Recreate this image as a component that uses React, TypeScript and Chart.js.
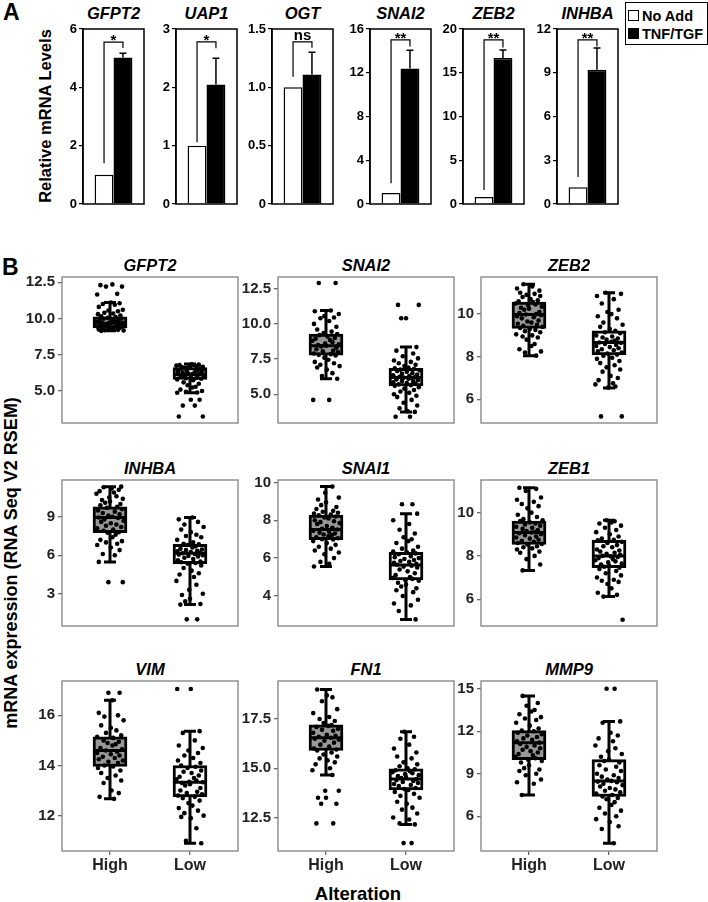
import React, { useEffect, useRef } from 'react';
import { Chart, registerables } from 'chart.js';

Chart.register(...registerables);

const FONT = "'Liberation Sans', Arial, Helvetica, sans-serif";

// ---------------- Panel A data ----------------
const A_GENES = ['GFPT2', 'UAP1', 'OGT', 'SNAI2', 'ZEB2', 'INHBA'];
const A_SERIES = ['No Add', 'TNF/TGF'];
const A_NOADD = [1.0, 1.0, 1.0, 1.0, 0.8, 1.15];
const A_TNF = [5.02, 2.05, 1.11, 12.4, 16.7, 9.2];
const A_TNF_ERR = [0.15, 0.45, 0.19, 1.65, 0.9, 1.5];
const A_YMAX = [6, 3, 1.5, 16, 20, 12];
const A_TICKS = [
  ['0', '2', '4', '6'],
  ['0', '1', '2', '3'],
  ['0', '0.5', '1.0', '1.5'],
  ['0', '4', '8', '12', '16'],
  ['0', '5', '10', '15', '20'],
  ['0', '3', '6', '9', '12'],
];
const A_BRACKET_LEFT = [1.4, 1.06, 1.09, 1.9, 1.6, 1.86];
const A_BRACKET_TOP = [5.55, 2.78, 1.39, 15.0, 18.75, 11.25];
const A_BRACKET_RIGHT = [5.35, 2.67, 1.34, 14.4, 17.9, 10.8];
const A_SIG = ['*', '*', 'ns', '**', '**', '**'];

// ---------------- Panel B data ----------------
const B_GROUPS = ['High', 'Low'];
const B_GENES = ['GFPT2', 'SNAI2', 'ZEB2', 'INHBA', 'SNAI1', 'ZEB1', 'VIM', 'FN1', 'MMP9'];

// hand-typed horizontal jitter offsets (category units)
const JITTER = [0.03, -0.12, 0.15, -0.05, 0.09, -0.16, 0.01, 0.12, -0.09, 0.06, -0.14, 0.16, -0.02, 0.10, -0.07,
  0.04, -0.15, 0.13, -0.11, 0.07, -0.03, 0.14, -0.08, 0.02, 0.11, -0.13, 0.05, -0.17, 0.08, -0.01, 0.16, -0.10,
  0.00, -0.06, 0.13, -0.12, 0.09, -0.04, 0.15, -0.15, 0.06, -0.09, 0.12, -0.02, 0.03, -0.14, 0.10, -0.07, 0.17,
  -0.11, 0.01, 0.08, -0.05, 0.14, -0.16, 0.04, -0.08, 0.11, -0.03, 0.07];

// box stats: [lower whisker, Q1, median, Q3, upper whisker]
const GFPT2_HIGH = [12.35, 12.3, 12.2, 12.2, 11.7, 11.65, 11.1, 11.05, 11.0, 10.95, 10.8, 10.6, 10.55, 10.5, 10.4, 10.35, 10.3, 10.2, 10.15, 10.1, 10.05, 10.0, 9.98, 9.95, 9.9, 9.85, 9.8, 9.78, 9.75, 9.72, 9.7, 9.68, 9.65, 9.6, 9.58, 9.55, 9.5, 9.48, 9.45, 9.42, 9.4, 9.38, 9.35, 9.3, 9.28, 9.25, 9.22, 9.2, 9.18, 9.15];
const GFPT2_LOW = [6.85, 6.82, 6.8, 6.78, 6.75, 6.72, 6.7, 6.68, 6.65, 6.63, 6.6, 6.55, 6.5, 6.45, 6.4, 6.38, 6.35, 6.3, 6.28, 6.25, 6.2, 6.18, 6.15, 6.12, 6.1, 6.05, 6.0, 5.95, 5.9, 5.88, 5.85, 5.8, 5.75, 5.6, 5.5, 5.4, 5.3, 5.25, 5.1, 5.0, 4.95, 4.9, 4.88, 4.4, 4.4, 4.0, 4.0, 3.25, 3.25];
const GFPT2_BOX_HIGH = [9.15, 9.36, 9.68, 10.12, 11.1];
const GFPT2_BOX_LOW = [4.88, 5.8, 6.15, 6.62, 6.86];
const GFPT2_RANGE = [2.8, 12.86];
const GFPT2_TICKS = ['5.0', '7.5', '10.0', '12.5'];

const SNAI2_HIGH = [12.9, 12.9, 10.95, 10.9, 10.7, 10.55, 10.45, 10.4, 10.2, 10.0, 9.8, 9.6, 9.45, 9.35, 9.28, 9.2, 9.1, 9.0, 8.95, 8.85, 8.8, 8.7, 8.6, 8.55, 8.5, 8.45, 8.4, 8.3, 8.2, 8.1, 8.05, 8.0, 7.9, 7.85, 7.8, 7.75, 7.6, 7.45, 7.3, 7.2, 7.1, 7.0, 6.9, 6.75, 6.5, 6.3, 6.1, 4.6, 4.6];
const SNAI2_LOW = [11.35, 11.35, 10.4, 10.4, 8.35, 8.1, 7.9, 7.7, 7.55, 7.4, 7.3, 7.2, 7.1, 7.0, 6.9, 6.84, 6.8, 6.75, 6.7, 6.65, 6.6, 6.5, 6.45, 6.4, 6.35, 6.3, 6.25, 6.2, 6.18, 6.15, 6.1, 6.05, 6.0, 5.95, 5.9, 5.85, 5.8, 5.75, 5.7, 5.65, 5.6, 5.5, 5.4, 5.3, 5.2, 5.1, 5.0, 4.9, 4.8, 4.6, 4.4, 4.2, 4.0, 3.8, 3.75, 3.4, 3.4];
const SNAI2_BOX_HIGH = [6.1, 7.77, 8.45, 9.28, 10.95];
const SNAI2_BOX_LOW = [3.75, 5.6, 6.2, 6.84, 8.35];
const SNAI2_RANGE = [2.96, 13.33];
const SNAI2_TICKS = ['5.0', '7.5', '10.0', '12.5'];

const ZEB2_HIGH = [11.4, 11.3, 11.2, 11.1, 11.0, 10.95, 10.9, 10.85, 10.8, 10.7, 10.65, 10.6, 10.56, 10.5, 10.45, 10.4, 10.35, 10.3, 10.25, 10.2, 10.1, 10.05, 10.0, 9.98, 9.95, 9.9, 9.85, 9.8, 9.7, 9.65, 9.6, 9.55, 9.5, 9.45, 9.4, 9.35, 9.3, 9.25, 9.2, 9.15, 9.05, 9.0, 8.95, 8.9, 8.8, 8.6, 8.5, 8.35, 8.25, 8.2, 8.05];
const ZEB2_LOW = [11.0, 10.95, 10.85, 10.7, 10.5, 10.2, 10.1, 10.0, 9.9, 9.8, 9.6, 9.5, 9.4, 9.3, 9.21, 9.15, 9.1, 9.0, 8.95, 8.9, 8.85, 8.8, 8.75, 8.7, 8.67, 8.65, 8.6, 8.55, 8.5, 8.45, 8.4, 8.35, 8.3, 8.25, 8.2, 8.15, 8.1, 8.05, 7.95, 7.9, 7.8, 7.7, 7.6, 7.5, 7.4, 7.3, 7.1, 7.0, 6.9, 6.75, 6.7, 6.6, 6.55, 5.2, 5.2];
const ZEB2_BOX_HIGH = [8.05, 9.33, 9.98, 10.56, 11.4];
const ZEB2_BOX_LOW = [6.53, 8.08, 8.67, 9.21, 11.0];
const ZEB2_RANGE = [4.89, 11.74];
const ZEB2_TICKS = ['6', '8', '10'];

const INHBA_HIGH = [11.35, 11.3, 11.2, 11.1, 11.0, 10.9, 10.8, 10.6, 10.5, 10.4, 10.3, 10.2, 10.1, 10.0, 9.9, 9.78, 9.7, 9.6, 9.5, 9.4, 9.3, 9.2, 9.1, 9.0, 8.94, 8.9, 8.8, 8.7, 8.6, 8.5, 8.4, 8.3, 8.2, 8.1, 8.0, 7.9, 7.8, 7.76, 7.6, 7.4, 7.2, 7.1, 7.0, 6.9, 6.8, 6.6, 6.4, 6.1, 6.0, 5.48, 3.9, 3.9];
const INHBA_LOW = [8.94, 8.8, 8.6, 8.4, 8.2, 8.0, 7.8, 7.6, 7.5, 7.4, 7.2, 7.0, 6.9, 6.85, 6.8, 6.7, 6.6, 6.5, 6.45, 6.4, 6.35, 6.3, 6.25, 6.2, 6.15, 6.1, 6.05, 6.0, 5.95, 5.9, 5.8, 5.7, 5.6, 5.5, 5.45, 5.4, 5.35, 5.2, 5.0, 4.8, 4.6, 4.5, 4.3, 4.0, 3.7, 3.3, 3.0, 2.9, 2.6, 2.4, 2.2, 2.15, 1.0, 1.0];
const INHBA_BOX_HIGH = [5.48, 7.76, 8.94, 9.78, 11.35];
const INHBA_BOX_LOW = [2.15, 5.35, 6.15, 6.85, 8.94];
const INHBA_RANGE = [0.48, 11.87];
const INHBA_TICKS = ['3', '6', '9'];

const SNAI1_HIGH = [9.78, 9.45, 9.2, 9.1, 8.95, 8.8, 8.7, 8.6, 8.5, 8.45, 8.4, 8.35, 8.3, 8.27, 8.2, 8.15, 8.1, 8.0, 7.95, 7.9, 7.85, 7.8, 7.7, 7.6, 7.55, 7.51, 7.45, 7.4, 7.35, 7.3, 7.25, 7.2, 7.15, 7.1, 7.05, 7.0, 6.98, 6.9, 6.8, 6.7, 6.6, 6.5, 6.4, 6.3, 6.2, 6.0, 5.8, 5.7, 5.56];
const SNAI1_LOW = [8.85, 8.85, 8.35, 8.0, 7.8, 7.5, 7.3, 7.1, 7.0, 6.9, 6.8, 6.6, 6.5, 6.4, 6.35, 6.31, 6.25, 6.2, 6.1, 6.05, 6.0, 5.95, 5.9, 5.85, 5.8, 5.75, 5.7, 5.65, 5.6, 5.55, 5.5, 5.4, 5.3, 5.2, 5.1, 5.0, 4.95, 4.9, 4.84, 4.8, 4.7, 4.6, 4.5, 4.4, 4.3, 4.2, 4.0, 3.8, 3.6, 3.5, 3.2, 2.76];
const SNAI1_BOX_HIGH = [5.56, 6.98, 7.51, 8.27, 9.78];
const SNAI1_BOX_LOW = [2.76, 4.84, 5.64, 6.31, 8.35];
const SNAI1_RANGE = [2.41, 10.13];
const SNAI1_TICKS = ['4', '6', '8', '10'];

const ZEB1_HIGH = [11.15, 11.1, 11.0, 10.7, 10.6, 10.5, 10.4, 10.3, 10.2, 10.0, 9.9, 9.8, 9.7, 9.65, 9.61, 9.55, 9.5, 9.45, 9.4, 9.35, 9.3, 9.25, 9.2, 9.15, 9.1, 9.08, 9.05, 9.0, 8.95, 8.9, 8.85, 8.8, 8.75, 8.7, 8.65, 8.6, 8.55, 8.53, 8.45, 8.4, 8.35, 8.3, 8.2, 8.15, 8.0, 7.85, 7.6, 7.33];
const ZEB1_LOW = [9.65, 9.6, 9.55, 9.5, 9.4, 9.3, 9.2, 9.1, 9.0, 8.9, 8.8, 8.75, 8.72, 8.65, 8.6, 8.5, 8.45, 8.4, 8.3, 8.25, 8.2, 8.15, 8.1, 8.05, 8.0, 7.98, 7.95, 7.9, 7.85, 7.8, 7.75, 7.7, 7.65, 7.6, 7.55, 7.5, 7.46, 7.4, 7.3, 7.2, 7.1, 7.0, 6.9, 6.85, 6.8, 6.7, 6.5, 6.3, 6.2, 6.12, 5.05];
const ZEB1_BOX_HIGH = [7.33, 8.53, 9.08, 9.61, 11.15];
const ZEB1_BOX_LOW = [6.12, 7.46, 8.0, 8.72, 9.65];
const ZEB1_RANGE = [4.76, 11.51];
const ZEB1_TICKS = ['6', '8', '10'];

const VIM_HIGH = [16.9, 16.9, 16.6, 16.1, 16.0, 15.95, 15.8, 15.6, 15.5, 15.4, 15.3, 15.2, 15.14, 15.1, 15.0, 14.95, 14.9, 14.85, 14.8, 14.7, 14.65, 14.6, 14.55, 14.5, 14.45, 14.4, 14.35, 14.3, 14.25, 14.2, 14.15, 14.1, 14.0, 13.96, 13.9, 13.8, 13.7, 13.6, 13.5, 13.4, 13.3, 13.0, 12.9, 12.75, 12.67];
const VIM_LOW = [17.05, 17.05, 15.37, 15.3, 15.0, 14.8, 14.7, 14.6, 14.5, 14.4, 14.3, 14.2, 14.1, 14.0, 13.95, 13.9, 13.8, 13.75, 13.7, 13.6, 13.55, 13.5, 13.45, 13.4, 13.35, 13.33, 13.3, 13.25, 13.2, 13.1, 13.0, 12.95, 12.9, 12.85, 12.8, 12.75, 12.7, 12.6, 12.5, 12.4, 12.3, 12.2, 12.1, 12.0, 11.95, 11.9, 11.5, 11.0, 10.9];
const VIM_BOX_HIGH = [12.67, 13.96, 14.6, 15.14, 16.6];
const VIM_BOX_LOW = [10.9, 12.75, 13.33, 14.0, 15.37];
const VIM_RANGE = [10.59, 17.37];
const VIM_TICKS = ['12', '14', '16'];

const FN1_HIGH = [19.0, 18.7, 18.6, 18.4, 18.0, 17.8, 17.6, 17.5, 17.4, 17.3, 17.2, 17.15, 17.1, 17.0, 16.95, 16.9, 16.8, 16.7, 16.65, 16.6, 16.55, 16.5, 16.45, 16.4, 16.3, 16.2, 16.1, 16.0, 15.95, 15.9, 15.8, 15.7, 15.6, 15.5, 15.4, 15.3, 15.2, 15.0, 14.9, 14.66, 13.86, 13.86, 13.5, 13.5, 13.2, 13.2, 12.2, 12.2];
const FN1_LOW = [16.85, 16.6, 16.5, 16.2, 16.0, 15.8, 15.6, 15.5, 15.3, 15.2, 15.1, 15.0, 14.95, 14.9, 14.85, 14.8, 14.75, 14.7, 14.65, 14.6, 14.55, 14.5, 14.45, 14.4, 14.35, 14.3, 14.25, 14.2, 14.15, 14.1, 14.0, 13.95, 13.9, 13.8, 13.7, 13.6, 13.5, 13.3, 13.2, 13.0, 12.9, 12.7, 12.5, 12.4, 12.2, 12.15, 11.2, 11.2];
const FN1_BOX_HIGH = [14.66, 15.9, 16.55, 17.2, 19.0];
const FN1_BOX_LOW = [12.15, 13.9, 14.45, 14.97, 16.85];
const FN1_RANGE = [10.8, 19.43];
const FN1_TICKS = ['12.5', '15.0', '17.5'];

const MMP9_HIGH = [14.5, 14.0, 13.8, 13.5, 13.4, 13.2, 13.0, 12.9, 12.8, 12.6, 12.4, 12.2, 12.05, 12.0, 11.9, 11.8, 11.7, 11.6, 11.5, 11.4, 11.3, 11.2, 11.1, 11.0, 10.9, 10.8, 10.7, 10.6, 10.5, 10.4, 10.3, 10.2, 10.1, 10.0, 9.9, 9.8, 9.6, 9.4, 9.3, 9.2, 9.0, 8.9, 8.6, 8.4, 8.3, 7.5];
const MMP9_LOW = [15.0, 15.0, 12.7, 12.6, 11.9, 11.7, 11.5, 11.3, 11.0, 10.8, 10.6, 10.4, 10.2, 10.0, 9.9, 9.8, 9.6, 9.5, 9.3, 9.2, 9.0, 8.9, 8.8, 8.7, 8.6, 8.5, 8.45, 8.4, 8.3, 8.2, 8.1, 8.0, 7.9, 7.8, 7.7, 7.6, 7.5, 7.4, 7.3, 7.2, 7.0, 6.8, 6.6, 6.4, 6.2, 6.0, 5.8, 5.6, 5.3, 5.1, 4.1];
const MMP9_BOX_HIGH = [7.5, 10.0, 11.2, 12.05, 14.5];
const MMP9_BOX_LOW = [4.1, 7.4, 8.5, 10.0, 12.7];
const MMP9_RANGE = [3.55, 15.55];
const MMP9_TICKS = ['6', '9', '12', '15'];

const B_POINTS = [
  [GFPT2_HIGH, GFPT2_LOW], [SNAI2_HIGH, SNAI2_LOW], [ZEB2_HIGH, ZEB2_LOW],
  [INHBA_HIGH, INHBA_LOW], [SNAI1_HIGH, SNAI1_LOW], [ZEB1_HIGH, ZEB1_LOW],
  [VIM_HIGH, VIM_LOW], [FN1_HIGH, FN1_LOW], [MMP9_HIGH, MMP9_LOW],
];
const B_BOXES = [
  [GFPT2_BOX_HIGH, GFPT2_BOX_LOW], [SNAI2_BOX_HIGH, SNAI2_BOX_LOW], [ZEB2_BOX_HIGH, ZEB2_BOX_LOW],
  [INHBA_BOX_HIGH, INHBA_BOX_LOW], [SNAI1_BOX_HIGH, SNAI1_BOX_LOW], [ZEB1_BOX_HIGH, ZEB1_BOX_LOW],
  [VIM_BOX_HIGH, VIM_BOX_LOW], [FN1_BOX_HIGH, FN1_BOX_LOW], [MMP9_BOX_HIGH, MMP9_BOX_LOW],
];
const B_RANGES = [GFPT2_RANGE, SNAI2_RANGE, ZEB2_RANGE, INHBA_RANGE, SNAI1_RANGE, ZEB1_RANGE, VIM_RANGE, FN1_RANGE, MMP9_RANGE];
const B_TICKS = [GFPT2_TICKS, SNAI2_TICKS, ZEB2_TICKS, INHBA_TICKS, SNAI1_TICKS, ZEB1_TICKS, VIM_TICKS, FN1_TICKS, MMP9_TICKS];

// ---------------- layout ----------------
const A_LEFT = [83, 176, 272, 370, 463, 557];
const A_W = 61;
const A_TOP = 29;
const A_H = 175;
const A_YW = 34;

const B_LEFT = [62, 278, 481];
const B_TOP = [275, 478, 679];
const B_W = 176;
const B_H = 172;
const B_YW = 50;

function ChartCanvas({ left, top, width, height, build }: any) {
  const ref = useRef<HTMLCanvasElement>(null);
  useEffect(() => {
    const chart = new Chart(ref.current as HTMLCanvasElement, build());
    return () => chart.destroy();
  }, []);
  return (
    <canvas
      ref={ref}
      width={width}
      height={height}
      style={{ position: 'absolute', left, top, width, height }}
    />
  );
}

function buildA(i: number): any {
  const ticks = A_TICKS[i];
  const extras = {
    id: 'aExtras' + i,
    afterDatasetsDraw(chart: any) {
      const { ctx, chartArea: ca } = chart;
      const y = chart.scales.y;
      const b0 = chart.getDatasetMeta(0).data[0];
      const b1 = chart.getDatasetMeta(1).data[0];
      ctx.save();
      ctx.strokeStyle = '#000';
      ctx.lineWidth = 1.5;
      const yBar = y.getPixelForValue(A_TNF[i]);
      const yErr = y.getPixelForValue(A_TNF[i] + A_TNF_ERR[i]);
      ctx.beginPath();
      ctx.moveTo(b1.x, yBar);
      ctx.lineTo(b1.x, yErr);
      ctx.moveTo(b1.x - 3.5, yErr);
      ctx.lineTo(b1.x + 3.5, yErr);
      ctx.stroke();
      const yl = y.getPixelForValue(A_BRACKET_LEFT[i]);
      const yt = y.getPixelForValue(A_BRACKET_TOP[i]);
      const yr = y.getPixelForValue(A_BRACKET_RIGHT[i]);
      ctx.lineWidth = 1.2;
      ctx.beginPath();
      ctx.moveTo(b0.x, yl);
      ctx.lineTo(b0.x, yt);
      ctx.lineTo(b1.x, yt);
      ctx.lineTo(b1.x, yr);
      ctx.stroke();
      ctx.fillStyle = '#000';
      ctx.font = `bold 15px ${FONT}`;
      ctx.textAlign = 'center';
      ctx.textBaseline = 'alphabetic';
      const off = A_SIG[i] === 'ns' ? -2 : 3;
      ctx.fillText(A_SIG[i], (b0.x + b1.x) / 2, yt + off);
      ctx.lineWidth = 1.5;
      ctx.strokeRect(ca.left, ca.top, ca.right - ca.left, ca.bottom - ca.top);
      ctx.restore();
    },
  };
  return {
    type: 'bar',
    data: {
      labels: [A_GENES[i]],
      datasets: [
        { label: A_SERIES[0], data: [A_NOADD[i]], backgroundColor: '#ffffff', borderColor: '#000', borderWidth: 1.5 },
        { label: A_SERIES[1], data: [A_TNF[i]], backgroundColor: '#000000', borderColor: '#000', borderWidth: 1.5 },
      ],
    },
    options: {
      animation: false,
      responsive: false,
      events: [],
      layout: { padding: { top: 10, bottom: 10, left: 0, right: 3 } },
      datasets: { bar: { categoryPercentage: 0.62, barPercentage: 1.0 } },
      plugins: { legend: { display: false }, tooltip: { enabled: false }, title: { display: false } },
      scales: {
        x: { display: false },
        y: {
          min: 0,
          max: A_YMAX[i],
          afterBuildTicks: (s: any) => { s.ticks = ticks.map((t) => ({ value: parseFloat(t) })); },
          afterFit: (s: any) => { s.width = A_YW; },
          ticks: {
            autoSkip: false,
            callback: (_v: any, idx: number) => ticks[idx],
            font: { family: FONT, size: 13, weight: 'bold' },
            color: '#000',
            padding: 2,
          },
          grid: { display: true, drawOnChartArea: false, drawTicks: true, tickLength: 4, color: '#000', lineWidth: 1.2 },
          border: { display: true, color: '#000', width: 1.5 },
        },
      },
    },
    plugins: [extras],
  };
}

function buildB(k: number): any {
  const row = Math.floor(k / 3);
  const bottomRow = row === 2;
  const ticks = B_TICKS[k];
  const boxes = B_BOXES[k];
  const pts: any[] = [];
  B_POINTS[k].forEach((arr, g) => {
    arr.forEach((v, n) => {
      pts.push({ x: g + 1 + JITTER[(n + g * 23 + k * 7) % JITTER.length], y: v });
    });
  });
  const boxPlugin = {
    id: 'boxExtras' + k,
    beforeDatasetsDraw(chart: any) {
      const { ctx } = chart;
      const x = chart.scales.x;
      const y = chart.scales.y;
      ctx.save();
      ctx.strokeStyle = '#000';
      ctx.lineWidth = 3;
      boxes.forEach((b, g) => {
        const px = x.getPixelForValue(g + 1);
        const lo = y.getPixelForValue(b[0]);
        const hi = y.getPixelForValue(b[4]);
        ctx.beginPath();
        ctx.moveTo(px, lo);
        ctx.lineTo(px, hi);
        ctx.moveTo(px - 6, lo);
        ctx.lineTo(px + 6, lo);
        ctx.moveTo(px - 6, hi);
        ctx.lineTo(px + 6, hi);
        ctx.stroke();
      });
      ctx.restore();
    },
    afterDatasetDraw(chart: any, args: any) {
      if (args.index !== 0) return;
      const { ctx } = chart;
      const y = chart.scales.y;
      const meta = chart.getDatasetMeta(0);
      ctx.save();
      ctx.strokeStyle = '#000';
      ctx.lineWidth = 3;
      boxes.forEach((b, g) => {
        const el = meta.data[g];
        const py = y.getPixelForValue(b[2]);
        ctx.beginPath();
        ctx.moveTo(el.x - el.width / 2, py);
        ctx.lineTo(el.x + el.width / 2, py);
        ctx.stroke();
      });
      ctx.restore();
    },
    afterDraw(chart: any) {
      const { ctx, chartArea: ca } = chart;
      ctx.save();
      ctx.strokeStyle = '#8a8a8a';
      ctx.lineWidth = 1.4;
      ctx.strokeRect(ca.left, ca.top, ca.right - ca.left, ca.bottom - ca.top);
      ctx.restore();
    },
  };
  return {
    type: 'bar',
    data: {
      datasets: [
        {
          type: 'bar',
          label: 'box',
          data: boxes.map((b, g) => ({ x: g + 1, y: [b[1], b[3]] })),
          backgroundColor: ['#999999', '#ffffff'],
          borderColor: '#000',
          borderWidth: 3,
          borderSkipped: false,
          barThickness: 34,
          order: 2,
        },
        {
          type: 'scatter',
          label: 'samples',
          data: pts,
          pointRadius: 2.3,
          pointBackgroundColor: '#000',
          pointBorderWidth: 0,
          order: 1,
        },
      ],
    },
    options: {
      animation: false,
      responsive: false,
      events: [],
      layout: { padding: { top: 10, bottom: bottomRow ? 4 : 10, left: 0, right: 4 } },
      plugins: { legend: { display: false }, tooltip: { enabled: false }, title: { display: false } },
      scales: {
        x: {
          type: 'linear',
          min: 0.4,
          max: 2.6,
          offset: false,
          display: bottomRow,
          afterBuildTicks: (s: any) => { s.ticks = [{ value: 1 }, { value: 2 }]; },
          afterFit: (s: any) => { s.height = 24; },
          ticks: {
            autoSkip: false,
            maxRotation: 0,
            callback: (_v: any, idx: number) => B_GROUPS[idx],
            font: { family: FONT, size: 16, weight: 'bold' },
            color: '#222',
            padding: 1,
          },
          grid: { display: true, offset: false, drawOnChartArea: false, drawTicks: true, tickLength: 4, color: '#666', lineWidth: 1.3 },
          border: { display: false },
        },
        y: {
          min: B_RANGES[k][0],
          max: B_RANGES[k][1],
          afterBuildTicks: (s: any) => { s.ticks = ticks.map((t) => ({ value: parseFloat(t) })); },
          afterFit: (s: any) => { s.width = B_YW; },
          ticks: {
            autoSkip: false,
            callback: (_v: any, idx: number) => ticks[idx],
            font: { family: FONT, size: 15, weight: 'bold' },
            color: '#222',
            padding: 3,
          },
          grid: { display: true, drawOnChartArea: false, drawTicks: true, tickLength: 4, color: '#666', lineWidth: 1.3 },
          border: { display: false },
        },
      },
    },
    plugins: [boxPlugin],
  };
}

const textBase: any = { position: 'absolute', fontFamily: FONT, fontWeight: 'bold', color: '#000', whiteSpace: 'nowrap', lineHeight: 1 };

export default function App() {
  return (
    <div style={{ position: 'absolute', left: 0, top: 0, width: 708, height: 902, overflow: 'hidden', background: '#fff' }}>
      {/* Panel A */}
      <div style={{ ...textBase, left: 3, top: 1, fontSize: 23 }}>A</div>
      <div style={{ ...textBase, left: 45, top: 116, fontSize: 16.5, transform: 'translate(-50%, -50%) rotate(-90deg)' }}>
        Relative mRNA Levels
      </div>
      {A_GENES.map((g, i) => (
        <div key={'at' + i} style={{ ...textBase, left: A_LEFT[i] + A_W / 2, top: 13, fontSize: 16.5, fontStyle: 'italic', transform: 'translate(-50%, -50%)' }}>
          {g}
        </div>
      ))}
      {A_GENES.map((g, i) => (
        <ChartCanvas
          key={'a' + i}
          left={A_LEFT[i] - A_YW}
          top={A_TOP - 10}
          width={A_YW + A_W + 3}
          height={A_H + 20}
          build={() => buildA(i)}
        />
      ))}
      <div style={{ position: 'absolute', left: 625, top: 2, width: 83, height: 43, border: '1.5px solid #000', boxSizing: 'border-box' }}>
        <div style={{ position: 'absolute', left: 2, top: 7, width: 11, height: 11, border: '1.2px solid #000', boxSizing: 'border-box', background: '#fff' }} />
        <div style={{ ...textBase, left: 16, top: 6, fontSize: 14.5 }}>{A_SERIES[0]}</div>
        <div style={{ position: 'absolute', left: 2, top: 25, width: 11, height: 11, background: '#000' }} />
        <div style={{ ...textBase, left: 16, top: 24, fontSize: 14.5 }}>{A_SERIES[1]}</div>
      </div>

      {/* Panel B */}
      <div style={{ ...textBase, left: 2, top: 256, fontSize: 23 }}>B</div>
      <div style={{ ...textBase, left: 11, top: 563, fontSize: 18, transform: 'translate(-50%, -50%) rotate(-90deg)' }}>
        mRNA expression (RNA Seq V2 RSEM)
      </div>
      <div style={{ ...textBase, left: 358, top: 894, fontSize: 18.5, transform: 'translate(-50%, -50%)' }}>Alteration</div>
      {B_GENES.map((g, k) => {
        const r = Math.floor(k / 3);
        const c = k % 3;
        return (
          <div key={'bt' + k} style={{ ...textBase, left: B_LEFT[c] + B_W / 2, top: B_TOP[r] - 10, fontSize: 16.5, fontStyle: 'italic', transform: 'translate(-50%, -50%)' }}>
            {g}
          </div>
        );
      })}
      {B_GENES.map((g, k) => {
        const r = Math.floor(k / 3);
        const c = k % 3;
        const bottomRow = r === 2;
        return (
          <ChartCanvas
            key={'b' + k}
            left={B_LEFT[c] - B_YW}
            top={B_TOP[r] - 10}
            width={B_YW + B_W + 4}
            height={10 + B_H + (bottomRow ? 28 : 10)}
            build={() => buildB(k)}
          />
        );
      })}
    </div>
  );
}
